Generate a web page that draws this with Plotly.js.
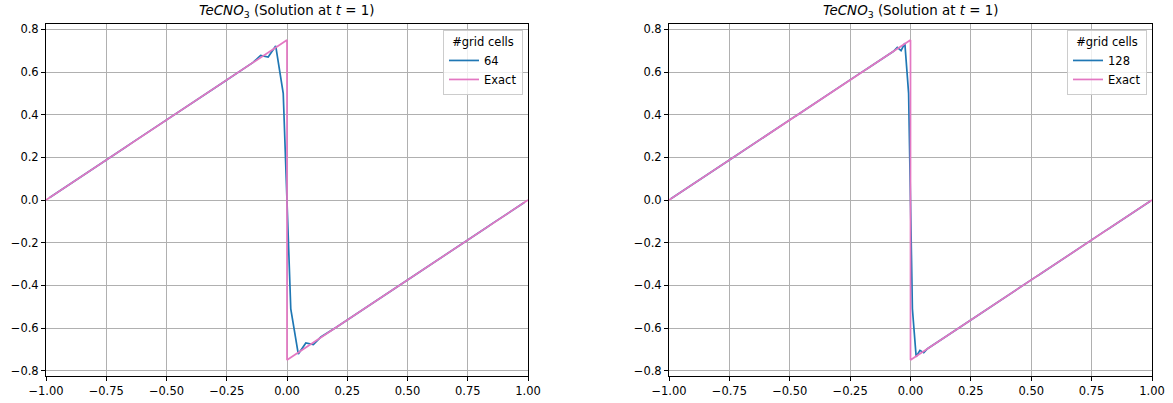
<!DOCTYPE html>
<html>
<head>
<meta charset="utf-8">
<script src="https://cdn.plot.ly/plotly-3.0.1.min.js"></script>
<style>html,body{margin:0;padding:0;background:#fff}#chart{width:1173px;height:403px}</style>
</head>
<body>
<div id="chart"></div>
<script>
// ---- data ----
const exactX = [-1, 0, 0, 1];
const exactU = [0, 0.75, -0.75, 0];

// 64 cells on [-1,1] (cell centres start at -1 + 1/64, spacing 1/32)
const cells64 = 64;
const u64 = [
  0.012, 0.035, 0.059, 0.082, 0.105, 0.129, 0.152, 0.176, 0.199, 0.223, 0.246, 0.270, 0.293, 0.316, 0.340, 0.363,
  0.387, 0.410, 0.434, 0.457, 0.480, 0.504, 0.527, 0.551, 0.574, 0.598, 0.621, 0.645, 0.678, 0.670, 0.722, 0.500,
  -0.510, -0.722, -0.670, -0.678, -0.642, -0.621, -0.598, -0.574, -0.551, -0.527, -0.504, -0.480, -0.457, -0.434, -0.410, -0.387,
  -0.363, -0.340, -0.316, -0.293, -0.270, -0.246, -0.223, -0.199, -0.176, -0.152, -0.129, -0.105, -0.082, -0.059, -0.035, -0.012
];

// 128 cells on [-1,1] (cell centres start at -1 + 1/128, spacing 1/64)
const cells128 = 128;
const u128 = [
  0.006, 0.018, 0.029, 0.041, 0.053, 0.064, 0.076, 0.088, 0.100, 0.111, 0.123, 0.135, 0.146, 0.158, 0.170, 0.182,
  0.193, 0.205, 0.217, 0.229, 0.240, 0.252, 0.264, 0.275, 0.287, 0.299, 0.311, 0.322, 0.334, 0.346, 0.357, 0.369,
  0.381, 0.393, 0.404, 0.416, 0.428, 0.439, 0.451, 0.463, 0.475, 0.486, 0.498, 0.510, 0.521, 0.533, 0.545, 0.557,
  0.568, 0.580, 0.592, 0.604, 0.615, 0.627, 0.639, 0.650, 0.662, 0.674, 0.686, 0.697, 0.715, 0.700, 0.735, 0.500,
  -0.510, -0.735, -0.705, -0.716, -0.697, -0.686, -0.674, -0.662, -0.650, -0.639, -0.627, -0.615, -0.604, -0.592, -0.580, -0.568,
  -0.557, -0.545, -0.533, -0.521, -0.510, -0.498, -0.486, -0.475, -0.463, -0.451, -0.439, -0.428, -0.416, -0.404, -0.393, -0.381,
  -0.369, -0.357, -0.346, -0.334, -0.322, -0.311, -0.299, -0.287, -0.275, -0.264, -0.252, -0.240, -0.229, -0.217, -0.205, -0.193,
  -0.182, -0.170, -0.158, -0.146, -0.135, -0.123, -0.111, -0.100, -0.088, -0.076, -0.064, -0.053, -0.041, -0.029, -0.018, -0.006
];

const xTicks = [-1, -0.75, -0.5, -0.25, 0, 0.25, 0.5, 0.75, 1];
const yTicks = [-0.8, -0.6, -0.4, -0.2, 0, 0.2, 0.4, 0.6, 0.8];
const legendTitle = "#grid cells";
const titleText = "<i>TeCNO</i><sub>3</sub> (Solution at <i>t</i> = 1)";

// ---- styles ----
const blue = "#1f77b4", pink = "#e377c2";
const FONT = "DejaVu Sans, sans-serif";
const TICK = 11.5, TITLE = 13.4, LEG = 11.5;
const W = 1173, H = 403;
const dom1 = [46 / W, 528 / W], dom2 = [669 / W, 1152 / W];
const ydom = [1 - 376 / H, 1 - 24 / H];

const traces = [
  {x0: -1 + 1 / cells64, dx: 2 / cells64, y: u64, type: "scatter", mode: "lines", name: String(cells64),
   line: {color: blue, width: 1.7}, xaxis: "x", yaxis: "y", legend: "legend"},
  {x: exactX, y: exactU, type: "scatter", mode: "lines", name: "Exact",
   line: {color: pink, width: 1.7}, xaxis: "x", yaxis: "y", legend: "legend"},
  {x0: -1 + 1 / cells128, dx: 2 / cells128, y: u128, type: "scatter", mode: "lines", name: String(cells128),
   line: {color: blue, width: 1.7}, xaxis: "x2", yaxis: "y2", legend: "legend2"},
  {x: exactX, y: exactU, type: "scatter", mode: "lines", name: "Exact",
   line: {color: pink, width: 1.7}, xaxis: "x2", yaxis: "y2", legend: "legend2"}
];

function xa(dom, anchor) {
  return {domain: dom, anchor: anchor, range: [-1, 1], tickvals: xTicks, tickformat: ".2f",
    showgrid: true, gridcolor: "#b0b0b0", gridwidth: 0.9, zeroline: false,
    showline: true, mirror: true, linecolor: "#000", linewidth: 1,
    ticks: "outside", ticklen: 4, tickwidth: 0.9, tickcolor: "#000",
    tickfont: {family: FONT, size: TICK, color: "#000"}};
}
function ya(anchor) {
  return {domain: ydom, anchor: anchor, range: [-0.825, 0.825], tickvals: yTicks, tickformat: ".1f",
    showgrid: true, gridcolor: "#b0b0b0", gridwidth: 0.9, zeroline: false,
    showline: true, mirror: true, linecolor: "#000", linewidth: 1,
    ticks: "outside", ticklen: 4, tickwidth: 0.9, tickcolor: "#000",
    tickfont: {family: FONT, size: TICK, color: "#000"}};
}
function leg(xr) {
  return {x: xr, xanchor: "right", y: 1 - 30 / H, yanchor: "top",
    bgcolor: "rgba(255,255,255,0.8)", bordercolor: "#cccccc", borderwidth: 1,
    font: {family: FONT, size: LEG, color: "#000"},
    title: {text: legendTitle, side: "top center", font: {family: FONT, size: LEG, color: "#000"}},
    tracegroupgap: 0, itemwidth: 30};
}

const layout = {
  width: W, height: H,
  margin: {l: 0, r: 0, t: 0, b: 0},
  paper_bgcolor: "#fff", plot_bgcolor: "#fff",
  font: {family: FONT, size: TICK, color: "#000"},
  xaxis: xa(dom1, "y"), yaxis: ya("x"),
  xaxis2: xa(dom2, "y2"), yaxis2: ya("x2"),
  showlegend: true,
  legend: leg(523 / W),
  legend2: leg(1147 / W),
  annotations: [
    {text: titleText, xref: "paper", yref: "paper", x: (dom1[0] + dom1[1]) / 2, y: ydom[1],
     xanchor: "center", yanchor: "bottom", yshift: 2, showarrow: false, font: {family: FONT, size: TITLE, color: "#000"}},
    {text: titleText, xref: "paper", yref: "paper", x: (dom2[0] + dom2[1]) / 2, y: ydom[1],
     xanchor: "center", yanchor: "bottom", yshift: 2, showarrow: false, font: {family: FONT, size: TITLE, color: "#000"}}
  ]
};

Plotly.newPlot("chart", traces, layout, {displayModeBar: false, responsive: false});
</script>
</body>
</html>
